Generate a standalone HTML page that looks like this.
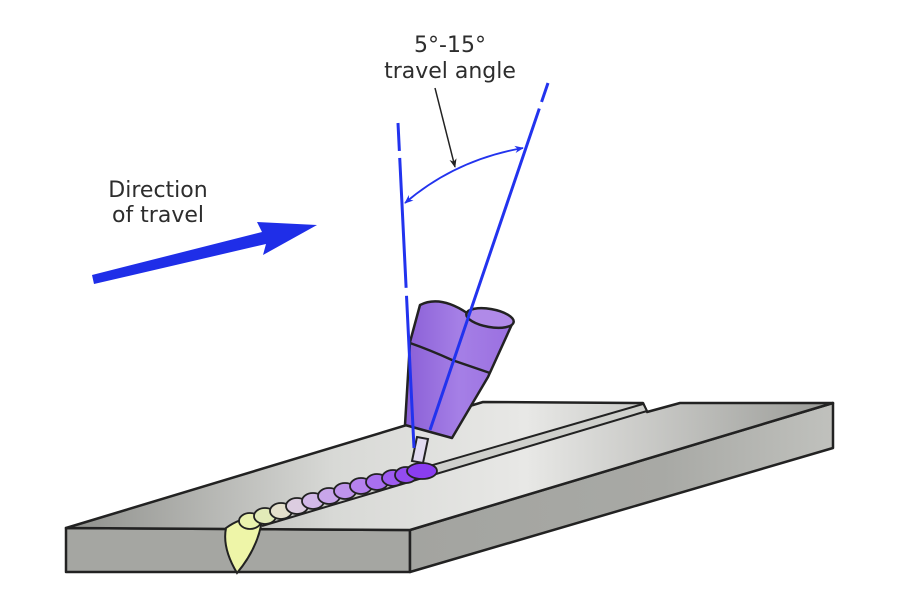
<!DOCTYPE html>
<html><head><meta charset="utf-8"><style>
html,body{margin:0;padding:0;background:#fff;}
svg{display:block}
text{font-family:"DejaVu Sans","Liberation Sans",sans-serif;fill:#2d2d2d;}
</style></head><body>
<svg width="900" height="600" viewBox="0 0 900 600" xmlns="http://www.w3.org/2000/svg">
<defs>
<linearGradient id="top" x1="0" y1="0" x2="1" y2="0">
<stop offset="0" stop-color="#8e8f8b"/><stop offset="0.35" stop-color="#d8d9d6"/><stop offset="0.6" stop-color="#e8e8e6"/><stop offset="1" stop-color="#9a9b97"/></linearGradient>
<linearGradient id="side" x1="0" y1="0" x2="1" y2="0">
<stop offset="0" stop-color="#a3a4a0"/><stop offset="0.6" stop-color="#a8a9a5"/><stop offset="1" stop-color="#c0c1bd"/></linearGradient>
<linearGradient id="torch" x1="0" y1="0" x2="1" y2="0">
<stop offset="0" stop-color="#8a5fd6"/><stop offset="0.5" stop-color="#a57fe6"/><stop offset="1" stop-color="#9a6fe0"/></linearGradient>
<marker id="ab" viewBox="0 0 10 10" refX="9" refY="5" markerWidth="9" markerHeight="9" markerUnits="userSpaceOnUse" orient="auto-start-reverse"><path d="M0,1 L10,5 L0,9 L3,5 Z" fill="#2233ee"/></marker>
<marker id="ak" viewBox="0 0 10 10" refX="9" refY="5" markerWidth="9" markerHeight="11" markerUnits="userSpaceOnUse" orient="auto"><path d="M0,1 L10,5 L0,9 L3,5 Z" fill="#222"/></marker>
</defs>

<polygon points="66,528 410,530 410,572 66,572" fill="#a5a6a2" stroke="#222" stroke-width="2.5" stroke-linejoin="round"/>
<polygon points="410,530 833,403 833,448 410,572" fill="url(#side)" stroke="#222" stroke-width="2.5" stroke-linejoin="round"/>
<polygon points="66,528 410,530 833,403 680,403 647,412 643,403 483,402" fill="url(#top)" stroke="#222" stroke-width="2.5" stroke-linejoin="round"/>
<polygon points="250,518 643,404 647,412 262,526" fill="#cfd0cc"/>
<line x1="250" y1="518" x2="643" y2="404" stroke="#222" stroke-width="2"/>
<line x1="262" y1="526" x2="647" y2="411" stroke="#222" stroke-width="2"/>
<line x1="643" y1="403" x2="647" y2="411" stroke="#222" stroke-width="2"/>

<path d="M226,528 Q222,548 237,573 Q258,548 262,520 Q245,514 226,528 Z" fill="#eef5a8" stroke="#222" stroke-width="2"/>
<g stroke="#222" stroke-width="1.8">
<ellipse cx="250" cy="521" rx="11" ry="8" fill="#eaf2ae"/>
<ellipse cx="265" cy="516" rx="11" ry="8" fill="#e2ebb8"/>
<ellipse cx="281" cy="511" rx="11" ry="8" fill="#e4e0cc"/>
<ellipse cx="297" cy="506" rx="11" ry="8" fill="#dccde0"/>
<ellipse cx="313" cy="501" rx="11" ry="8" fill="#d2b8e8"/>
<ellipse cx="329" cy="496" rx="11" ry="8" fill="#c8a6ea"/>
<ellipse cx="345" cy="491" rx="11" ry="8" fill="#bf94ec"/>
<ellipse cx="361" cy="486" rx="11" ry="8" fill="#b582ee"/>
<ellipse cx="377" cy="482" rx="11" ry="8" fill="#a96ff0"/>
<ellipse cx="393" cy="478" rx="11" ry="8" fill="#9e5cf0"/>
<ellipse cx="406" cy="475" rx="11" ry="8" fill="#934cf0"/>
<ellipse cx="422" cy="471" rx="15" ry="8" fill="#8a3df0"/>
</g>

<polygon points="417,437 428,439 423,463 412,461" fill="#e2dbf0" stroke="#222" stroke-width="2"/>

<path d="M420,305 Q440,295 467,313 L513,322 L488,377 L452,438 L405,425 L410,342 Z" fill="url(#torch)" stroke="#222" stroke-width="2.5" stroke-linejoin="round"/>
<ellipse cx="490" cy="318" rx="24" ry="9" transform="rotate(10 490 318)" fill="#b08ae8" stroke="#222" stroke-width="2.5"/>
<path d="M410,343 Q430,350 452,360 L490,373" fill="none" stroke="#222" stroke-width="2.5"/>

<line x1="398" y1="123" x2="414" y2="448" stroke="#2233ee" stroke-width="3" stroke-dasharray="28,7,130,8,200"/>
<line x1="548" y1="83" x2="430" y2="430" stroke="#2233ee" stroke-width="3" stroke-dasharray="20,7,400"/>
<path d="M405,203 Q455,160 523,148" fill="none" stroke="#2233ee" stroke-width="1.8" marker-start="url(#ab)" marker-end="url(#ab)"/>
<line x1="435" y1="88" x2="455" y2="167" stroke="#222" stroke-width="1.5" marker-end="url(#ak)"/>

<polygon points="92,275 262,232 257,222 317,225 263,255 266,244 94,284" fill="#1f2ee8"/>

<text x="450" y="52" font-size="22" text-anchor="middle">5°-15°</text>
<text x="450" y="78" font-size="22" text-anchor="middle">travel angle</text>
<text x="158" y="197" font-size="22" text-anchor="middle">Direction</text>
<text x="158" y="222" font-size="22" text-anchor="middle">of travel</text>
</svg>
</body></html>
